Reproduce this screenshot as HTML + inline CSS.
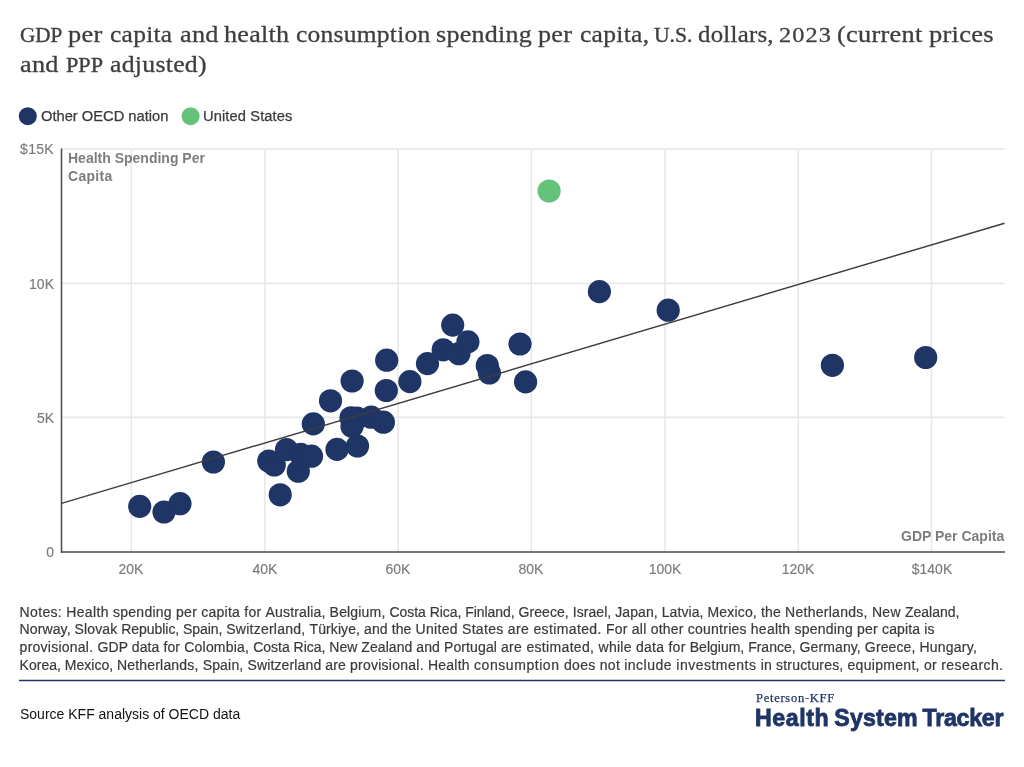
<!DOCTYPE html>
<html><head><meta charset="utf-8"><title>chart</title>
<style>
html,body{margin:0;padding:0;background:#fff;}
body{width:1024px;height:767px;position:relative;overflow:hidden;font-family:"Liberation Sans",sans-serif;}
.title{position:absolute;left:0;top:0;width:1024px;height:90px;font-family:"Liberation Serif",serif;color:#3e3e3e;white-space:pre;-webkit-text-stroke:0.3px #3e3e3e;}
.title span{position:absolute;line-height:30px;transform-origin:0 0;}
.title,.leg,.xl,.yl,.ax,.notes,.src,.pk,.hst{will-change:transform;}
.cap{font-size:21px;line-height:0;}
.l1{letter-spacing:1.06px;}
.l2{letter-spacing:1.11px;}
.leg{position:absolute;top:107px;font-size:14.7px;line-height:19px;color:#3a3a3a;white-space:nowrap;-webkit-text-stroke:0.25px #3a3a3a;}
.xl{position:absolute;top:560px;width:80px;text-align:center;font-size:14px;line-height:18px;color:#7a7a7a;-webkit-text-stroke:0.15px #7a7a7a;}
.yl{position:absolute;left:0;width:54px;text-align:right;font-size:14px;line-height:18px;color:#7a7a7a;-webkit-text-stroke:0.15px #7a7a7a;}
.ax{position:absolute;font-weight:bold;font-size:14px;line-height:18px;color:#7d7d7d;white-space:nowrap;}
.notes{position:absolute;left:0;top:604px;width:1024px;height:72px;font-size:14px;line-height:17.7px;color:#3a3a3a;white-space:pre;-webkit-text-stroke:0.2px #3a3a3a;}
.notes span{position:absolute;}
.src{position:absolute;left:19.5px;top:704.5px;font-size:14px;line-height:19px;color:#111;white-space:nowrap;}
.pk{position:absolute;left:755.5px;top:691.1px;font-family:"Liberation Serif",serif;font-size:12.5px;line-height:15px;color:#1f3566;white-space:nowrap;letter-spacing:0.73px;-webkit-text-stroke:0.25px #1f3566;}
.hst{position:absolute;left:755px;top:703px;font-size:23.2px;line-height:30px;font-weight:bold;color:#1f3566;white-space:nowrap;-webkit-text-stroke:0.8px #1f3566;width:260px;height:30px;}
.hst span{position:absolute;top:0;}
</style></head><body>
<svg width="1024" height="767" viewBox="0 0 1024 767" style="position:absolute;left:0;top:0">
<line x1="131.4" y1="149" x2="131.4" y2="552" stroke="#e8e8e8" stroke-width="1.6"/>
<line x1="264.8" y1="149" x2="264.8" y2="552" stroke="#e8e8e8" stroke-width="1.6"/>
<line x1="398.1" y1="149" x2="398.1" y2="552" stroke="#e8e8e8" stroke-width="1.6"/>
<line x1="531.4" y1="149" x2="531.4" y2="552" stroke="#e8e8e8" stroke-width="1.6"/>
<line x1="664.9" y1="149" x2="664.9" y2="552" stroke="#e8e8e8" stroke-width="1.6"/>
<line x1="798.3" y1="149" x2="798.3" y2="552" stroke="#e8e8e8" stroke-width="1.6"/>
<line x1="931.5" y1="149" x2="931.5" y2="552" stroke="#e8e8e8" stroke-width="1.6"/>
<line x1="61" y1="149.1" x2="1004.5" y2="149.1" stroke="#e8e8e8" stroke-width="1.6"/>
<line x1="61" y1="283.4" x2="1004.5" y2="283.4" stroke="#e8e8e8" stroke-width="1.6"/>
<line x1="61" y1="417.4" x2="1004.5" y2="417.4" stroke="#e8e8e8" stroke-width="1.6"/>
<line x1="61.5" y1="148.5" x2="61.5" y2="552.8" stroke="#4a4a4a" stroke-width="1.5"/>
<line x1="60.8" y1="552" x2="1005" y2="552" stroke="#4a4a4a" stroke-width="1.6"/>
<circle cx="139.7" cy="506.4" r="11.6" fill="#1f3566"/>
<circle cx="164" cy="512" r="11.6" fill="#1f3566"/>
<circle cx="180" cy="503.7" r="11.6" fill="#1f3566"/>
<circle cx="213.4" cy="462" r="11.6" fill="#1f3566"/>
<circle cx="280.2" cy="494.8" r="11.6" fill="#1f3566"/>
<circle cx="268.8" cy="461" r="11.6" fill="#1f3566"/>
<circle cx="274.3" cy="465" r="11.6" fill="#1f3566"/>
<circle cx="298.3" cy="471.25" r="11.6" fill="#1f3566"/>
<circle cx="286.5" cy="449.6" r="11.6" fill="#1f3566"/>
<circle cx="300.8" cy="454.4" r="11.6" fill="#1f3566"/>
<circle cx="311.5" cy="456.2" r="11.6" fill="#1f3566"/>
<circle cx="313.3" cy="423.9" r="11.6" fill="#1f3566"/>
<circle cx="330.5" cy="400.8" r="11.6" fill="#1f3566"/>
<circle cx="337" cy="449.4" r="11.6" fill="#1f3566"/>
<circle cx="357.5" cy="446" r="11.6" fill="#1f3566"/>
<circle cx="351" cy="417.8" r="11.6" fill="#1f3566"/>
<circle cx="357" cy="418" r="11.6" fill="#1f3566"/>
<circle cx="352" cy="426.2" r="11.6" fill="#1f3566"/>
<circle cx="371.2" cy="417.2" r="11.6" fill="#1f3566"/>
<circle cx="383.4" cy="422.2" r="11.6" fill="#1f3566"/>
<circle cx="386.3" cy="390.5" r="11.6" fill="#1f3566"/>
<circle cx="352.1" cy="381" r="11.6" fill="#1f3566"/>
<circle cx="386.7" cy="360.2" r="11.6" fill="#1f3566"/>
<circle cx="409.9" cy="381.6" r="11.6" fill="#1f3566"/>
<circle cx="427.5" cy="363.6" r="11.6" fill="#1f3566"/>
<circle cx="443.2" cy="349.8" r="11.6" fill="#1f3566"/>
<circle cx="452.7" cy="325.1" r="11.6" fill="#1f3566"/>
<circle cx="458.9" cy="353.7" r="11.6" fill="#1f3566"/>
<circle cx="467.9" cy="341.9" r="11.6" fill="#1f3566"/>
<circle cx="487.3" cy="365.5" r="11.6" fill="#1f3566"/>
<circle cx="489.4" cy="373" r="11.6" fill="#1f3566"/>
<circle cx="520" cy="344" r="11.6" fill="#1f3566"/>
<circle cx="525.6" cy="381.9" r="11.6" fill="#1f3566"/>
<circle cx="599.4" cy="291.6" r="11.6" fill="#1f3566"/>
<circle cx="668.2" cy="310.2" r="11.6" fill="#1f3566"/>
<circle cx="832.4" cy="365.3" r="11.6" fill="#1f3566"/>
<circle cx="925.7" cy="357.5" r="11.6" fill="#1f3566"/>
<circle cx="549.1" cy="191" r="11.6" fill="#65c27b"/>
<line x1="61.5" y1="503.4" x2="1004.5" y2="223.2" stroke="#3d3d3d" stroke-width="1.45"/>
<circle cx="27.8" cy="116.2" r="9" fill="#1f3566"/>
<circle cx="190.6" cy="116.2" r="9" fill="#65c27b"/>
<line x1="19" y1="680.5" x2="1005" y2="680.5" stroke="#1f3566" stroke-width="1.3"/>
</svg>
<div class="title"><span style="left:19.50px;top:20.00px;font-size:21.7px;-webkit-text-stroke-width:0.4px;letter-spacing:0.0px;transform:scaleX(0.9752)">GDP</span><span style="left:68.25px;top:19.00px;font-size:24.0px;letter-spacing:0.25px;transform:scaleX(1.0994)">per</span><span style="left:110.00px;top:19.00px;font-size:24.0px;letter-spacing:0.25px;transform:scaleX(1.0613)">capita</span><span style="left:179.50px;top:19.00px;font-size:24.0px;letter-spacing:0.25px;transform:scaleX(1.0952)">and</span><span style="left:224.00px;top:19.00px;font-size:24.0px;letter-spacing:0.25px;transform:scaleX(1.0853)">health</span><span style="left:295.50px;top:19.00px;font-size:24.0px;letter-spacing:0.25px;transform:scaleX(1.0613)">consumption</span><span style="left:436.25px;top:19.00px;font-size:24.0px;letter-spacing:0.25px;transform:scaleX(1.0830)">spending</span><span style="left:538.00px;top:19.00px;font-size:24.0px;letter-spacing:0.25px;transform:scaleX(1.0914)">per</span><span style="left:579.50px;top:19.00px;font-size:24.0px;letter-spacing:0.25px;transform:scaleX(1.0659)">capita,</span><span style="left:654.25px;top:20.00px;font-size:21.7px;-webkit-text-stroke-width:0.4px;letter-spacing:0.0px;transform:scaleX(0.9961)">U.S.</span><span style="left:698.00px;top:19.00px;font-size:24.0px;letter-spacing:0.25px;transform:scaleX(1.0337)">dollars,</span><span style="left:779.40px;top:20.00px;font-size:21.5px;letter-spacing:1.0px;transform:scaleX(1.1293)">2023</span><span style="left:836.90px;top:19.00px;font-size:24.0px;letter-spacing:0.25px;transform:scaleX(1.0970)">(current</span><span style="left:929.25px;top:19.00px;font-size:24.0px;letter-spacing:0.25px;transform:scaleX(1.1037)">prices</span><span style="left:19.50px;top:49.00px;font-size:24.0px;letter-spacing:0.25px;transform:scaleX(1.0952)">and</span><span style="left:65.50px;top:50.00px;font-size:21.7px;-webkit-text-stroke-width:0.4px;letter-spacing:0.0px;transform:scaleX(1.0243)">PPP</span><span style="left:110.00px;top:49.00px;font-size:24.0px;letter-spacing:0.25px;transform:scaleX(1.0733)">adjusted)</span></div>
<div class="leg" style="left:41px">Other OECD nation</div>
<div class="leg" style="left:203px;letter-spacing:0.1px">United States</div>
<div class="xl" style="left:91.4px">20K</div><div class="xl" style="left:224.8px">40K</div><div class="xl" style="left:358.1px">60K</div><div class="xl" style="left:491.4px">80K</div><div class="xl" style="left:624.9px">100K</div><div class="xl" style="left:758.3px">120K</div><div class="xl" style="left:891.5px">$140K</div>
<div class="yl" style="top:139.8px;letter-spacing:0.3px;left:0.3px;">$15K</div><div class="yl" style="top:274.5px;">10K</div><div class="yl" style="top:408.5px;">5K</div><div class="yl" style="top:543px;">0</div>
<div class="ax" style="left:68px;top:149.1px">Health Spending Per<br><span style="letter-spacing:0.3px">Capita</span></div>
<div class="ax" id="gdp" style="right:20px;top:527px">GDP Per Capita</div>
<div class="notes"><span style="left:19.60px;top:0px;letter-spacing:0.335px">Notes: Health </span><span style="left:113.00px;top:0px;letter-spacing:0.258px">spending per capita for </span><span style="left:265.50px;top:0px;letter-spacing:0.170px">Australia, Belgium, </span><span style="left:389.50px;top:0px;letter-spacing:-0.045px">Costa Rica, Finland, </span><span style="left:518.50px;top:0px;letter-spacing:0.065px">Greece, Israel, </span><span style="left:615.25px;top:0px;letter-spacing:0.079px">Japan, Latvia, </span><span style="left:707.50px;top:0px;letter-spacing:0.169px">Mexico, the </span><span style="left:785.00px;top:0px;letter-spacing:0.284px">Netherlands, New </span><span style="left:905.00px;top:0px;letter-spacing:-0.026px">Zealand,</span><span style="left:19.60px;top:17px;letter-spacing:0.103px">Norway, Slovak </span><span style="left:121.25px;top:17px;letter-spacing:-0.049px">Republic, Spain, </span><span style="left:226.25px;top:17px;letter-spacing:0.239px">Switzerland, </span><span style="left:309.50px;top:17px;letter-spacing:0.101px">Türkiye, and the </span><span style="left:415.50px;top:17px;letter-spacing:0.308px">United States </span><span style="left:507.75px;top:17px;letter-spacing:0.377px">are estimated. </span><span style="left:606.00px;top:17px;letter-spacing:0.232px">For all other countries health </span><span style="left:794.50px;top:17px;letter-spacing:0.205px">spending per </span><span style="left:882.00px;top:17px;letter-spacing:0.143px">capita is</span><span style="left:19.60px;top:35px;letter-spacing:0.246px">provisional. </span><span style="left:97.50px;top:35px;letter-spacing:0.089px">GDP data for </span><span style="left:184.25px;top:35px;letter-spacing:0.208px">Colombia, </span><span style="left:253.25px;top:35px;letter-spacing:-0.021px">Costa Rica, </span><span style="left:329.25px;top:35px;letter-spacing:0.052px">New Zealand </span><span style="left:416.25px;top:35px;letter-spacing:0.113px">and Portugal </span><span style="left:501.00px;top:35px;letter-spacing:0.327px">are estimated, </span><span style="left:598.50px;top:35px;letter-spacing:0.273px">while data for </span><span style="left:689.75px;top:35px;letter-spacing:0.002px">Belgium, France, </span><span style="left:799.50px;top:35px;letter-spacing:0.118px">Germany, Greece, </span><span style="left:919.50px;top:35px;letter-spacing:0.219px">Hungary,</span><span style="left:19.60px;top:53px;letter-spacing:0.009px">Korea, Mexico, </span><span style="left:117.00px;top:53px;letter-spacing:0.182px">Netherlands, Spain, </span><span style="left:247.50px;top:53px;letter-spacing:0.133px">Switzerland are </span><span style="left:350.00px;top:53px;letter-spacing:0.247px">provisional. Health </span><span style="left:474.00px;top:53px;letter-spacing:0.561px">consumption </span><span style="left:564.00px;top:53px;letter-spacing:0.294px">does not </span><span style="left:624.25px;top:53px;letter-spacing:0.483px">include investments </span><span style="left:760.75px;top:53px;letter-spacing:0.182px">in structures, </span><span style="left:847.50px;top:53px;letter-spacing:0.304px">equipment, or </span><span style="left:941.25px;top:53px;letter-spacing:0.424px">research.</span></div>
<div class="src">Source KFF analysis of OECD data</div>
<div class="pk">Peterson<span style="color:#4fa58c">-</span>KFF</div>
<div class="hst"><span style="left:0;letter-spacing:0.54px">Health</span><span style="left:79.3px;letter-spacing:0.18px">System</span><span style="left:167.6px;letter-spacing:-0.27px">Tracker</span></div>
</body></html>
